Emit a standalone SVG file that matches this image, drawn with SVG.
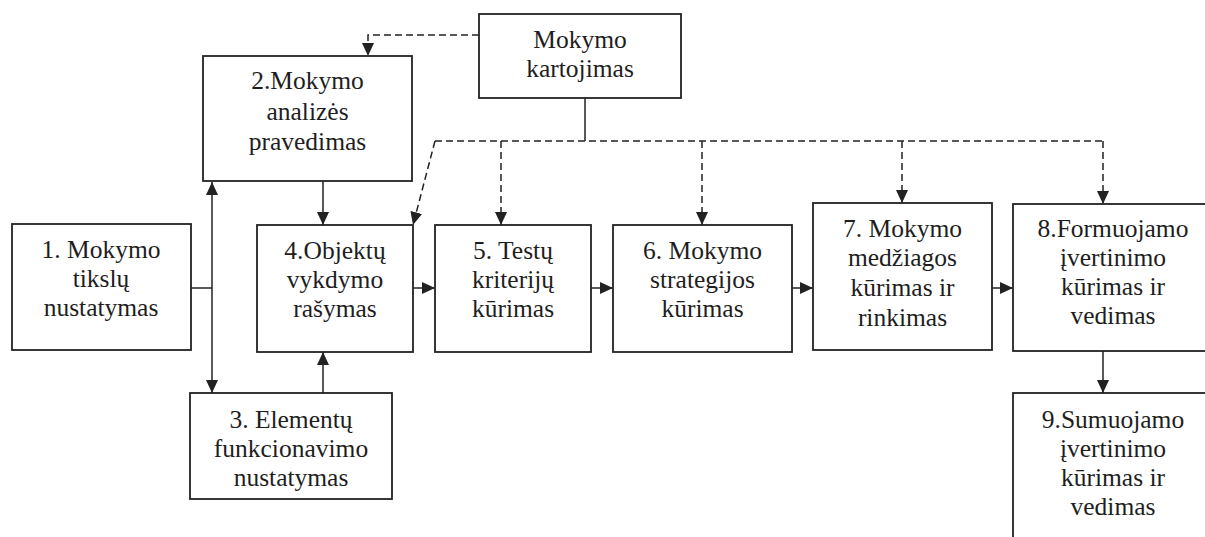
<svg xmlns="http://www.w3.org/2000/svg" width="1205" height="537" viewBox="0 0 1205 537">
  <style>
    .box { fill: #ffffff; stroke: #222222; stroke-width: 1.8; }
    .lbl { font-family: "Liberation Serif", Tinos, "Times New Roman", "DejaVu Serif", serif; font-size: 25.5px; fill: #1e1e1e; text-anchor: middle; }
    .ln { fill: none; stroke: #222222; stroke-width: 1.5; }
    .dash { fill: none; stroke: #222222; stroke-width: 1.5; stroke-dasharray: 7 4; }
  </style>
  <defs>
    <marker id="arr" markerUnits="userSpaceOnUse" markerWidth="13" markerHeight="12" refX="13" refY="6" orient="auto">
      <path d="M0,0 L13,6 L0,12 z" fill="#222222"/>
    </marker>
  </defs>
  <rect width="1205" height="537" fill="#ffffff"/>

  <!-- connectors -->
  <g id="connectors">
    <line class="ln" x1="191" y1="288" x2="212" y2="288"/>
    <line class="ln" x1="212" y1="288" x2="212" y2="182" marker-end="url(#arr)"/>
    <line class="ln" x1="212" y1="288" x2="212" y2="393" marker-end="url(#arr)"/>
    <line class="ln" x1="323" y1="181" x2="323" y2="225" marker-end="url(#arr)"/>
    <line class="ln" x1="323" y1="393" x2="323" y2="352" marker-end="url(#arr)"/>
    <line class="ln" x1="413" y1="288" x2="435" y2="288" marker-end="url(#arr)"/>
    <line class="ln" x1="591" y1="288" x2="613" y2="288" marker-end="url(#arr)"/>
    <line class="ln" x1="792" y1="288" x2="813" y2="288" marker-end="url(#arr)"/>
    <line class="ln" x1="992" y1="288" x2="1013" y2="288" marker-end="url(#arr)"/>
    <line class="ln" x1="1103" y1="351" x2="1103" y2="393" marker-end="url(#arr)"/>
    <line class="ln" x1="585" y1="98" x2="585" y2="141"/>
    <!-- repetition feedback (dashed) -->
    <polyline class="dash" points="479,35 368,35 368,56" marker-end="url(#arr)"/>
    <line class="dash" x1="435" y1="141" x2="1103" y2="141"/>
    <line class="dash" x1="435" y1="141" x2="413" y2="225" marker-end="url(#arr)"/>
    <line class="dash" x1="501" y1="141" x2="501" y2="225" marker-end="url(#arr)"/>
    <line class="dash" x1="702" y1="141" x2="702" y2="225" marker-end="url(#arr)"/>
    <line class="dash" x1="902" y1="141" x2="902" y2="203" marker-end="url(#arr)"/>
    <line class="dash" x1="1103" y1="141" x2="1103" y2="204" marker-end="url(#arr)"/>
  </g>

  <g id="kartojimas">
    <rect class="box" x="479" y="14" width="202" height="84"/>
    <text class="lbl" x="580" y="48">Mokymo</text>
    <text class="lbl" x="580" y="77">kartojimas</text>
  </g>

  <g id="n1">
    <rect class="box" x="12" y="224" width="179" height="126"/>
    <text class="lbl" x="101" y="258">1. Mokymo</text>
    <text class="lbl" x="101" y="287">tikslų</text>
    <text class="lbl" x="101" y="316">nustatymas</text>
  </g>

  <g id="n2">
    <rect class="box" x="203" y="56" width="209" height="125"/>
    <text class="lbl" x="307.5" y="89">2.Mokymo</text>
    <text class="lbl" x="307.5" y="120">analizės</text>
    <text class="lbl" x="307.5" y="150">pravedimas</text>
  </g>

  <g id="n3">
    <rect class="box" x="190" y="393" width="202" height="106"/>
    <text class="lbl" x="291" y="428">3. Elementų</text>
    <text class="lbl" x="291" y="457">funkcionavimo</text>
    <text class="lbl" x="291" y="486">nustatymas</text>
  </g>

  <g id="n4">
    <rect class="box" x="257" y="225" width="156" height="127"/>
    <text class="lbl" x="335" y="259">4.Objektų</text>
    <text class="lbl" x="335" y="288">vykdymo</text>
    <text class="lbl" x="335" y="317">rašymas</text>
  </g>

  <g id="n5">
    <rect class="box" x="435" y="225" width="156" height="127"/>
    <text class="lbl" x="513" y="259">5. Testų</text>
    <text class="lbl" x="513" y="288">kriterijų</text>
    <text class="lbl" x="513" y="317">kūrimas</text>
  </g>

  <g id="n6">
    <rect class="box" x="613" y="225" width="179" height="127"/>
    <text class="lbl" x="702.5" y="259">6. Mokymo</text>
    <text class="lbl" x="702.5" y="288">strategijos</text>
    <text class="lbl" x="702.5" y="317">kūrimas</text>
  </g>

  <g id="n7">
    <rect class="box" x="813" y="203" width="179" height="147"/>
    <text class="lbl" x="902.5" y="237">7. Mokymo</text>
    <text class="lbl" x="902.5" y="266">medžiagos</text>
    <text class="lbl" x="902.5" y="296">kūrimas ir</text>
    <text class="lbl" x="902.5" y="326">rinkimas</text>
  </g>

  <g id="n8">
    <rect class="box" x="1013" y="204" width="200" height="147"/>
    <text class="lbl" x="1113" y="237">8.Formuojamo</text>
    <text class="lbl" x="1113" y="266">įvertinimo</text>
    <text class="lbl" x="1113" y="295">kūrimas ir</text>
    <text class="lbl" x="1113" y="324">vedimas</text>
  </g>

  <g id="n9">
    <rect class="box" x="1013" y="393" width="200" height="160"/>
    <text class="lbl" x="1113" y="428">9.Sumuojamo</text>
    <text class="lbl" x="1113" y="457">įvertinimo</text>
    <text class="lbl" x="1113" y="486">kūrimas ir</text>
    <text class="lbl" x="1113" y="515">vedimas</text>
  </g>
</svg>
